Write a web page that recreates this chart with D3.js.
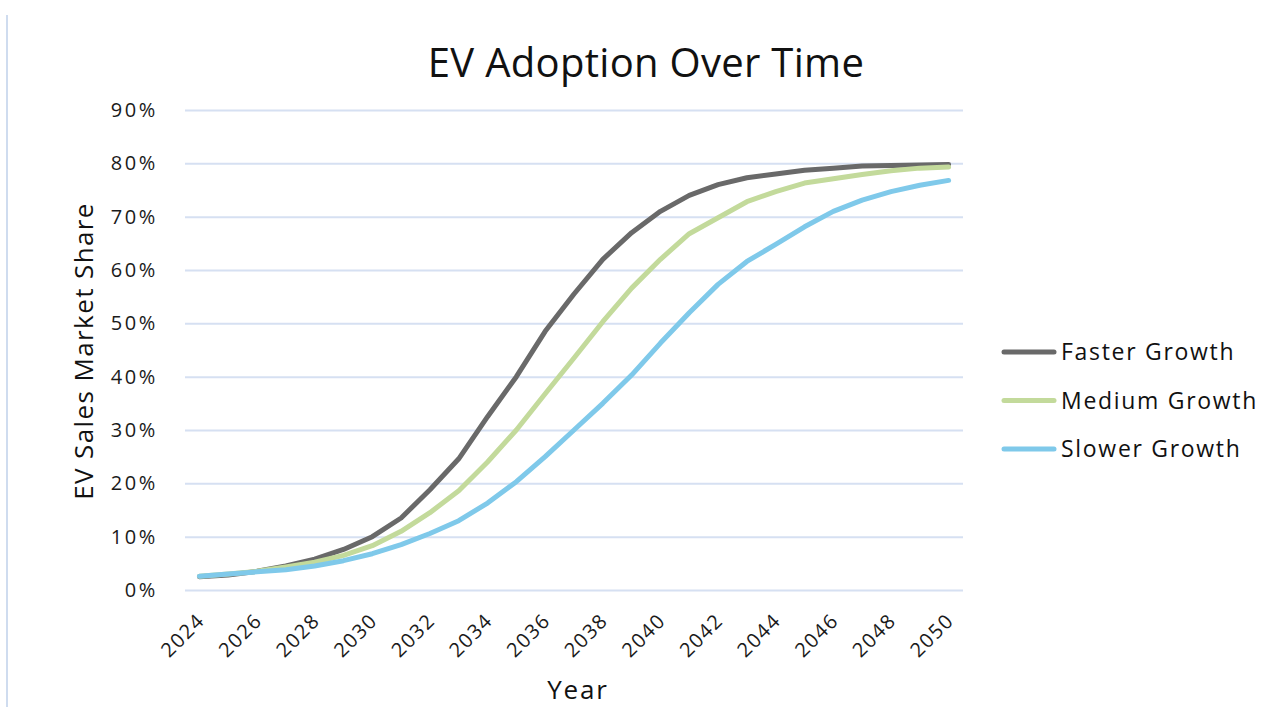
<!DOCTYPE html>
<html>
<head>
<meta charset="utf-8">
<script src="https://cdn.jsdelivr.net/npm/d3@7"></script>
<style>
  html, body { margin: 0; padding: 0; background: #fff; }
  svg { display: block; font-family: "Open Sans", "Noto Sans", sans-serif; }
</style>
</head>
<body>
<svg id="chart" width="1282" height="707"></svg>
<script>
// Projected EV share of new sales, 2024–2050, under three growth scenarios
const years = d3.range(2024, 2051);
const fasterGrowth = [2.5, 2.8, 3.5, 4.5, 5.8, 7.6, 10.0, 13.5, 18.8, 24.6, 32.5, 40.0, 48.5, 55.5, 62.0, 67.0, 71.0, 74.0, 76.0, 77.3, 78.0, 78.7, 79.1, 79.5, 79.6, 79.7, 79.8];
const mediumGrowth = [2.6, 3.0, 3.5, 4.3, 5.2, 6.5, 8.3, 11.0, 14.5, 18.6, 24.0, 30.0, 36.8, 43.5, 50.3, 56.6, 62.0, 66.8, 69.8, 72.8, 74.7, 76.3, 77.1, 77.9, 78.6, 79.1, 79.3];
const slowerGrowth = [2.6, 3.0, 3.4, 3.8, 4.5, 5.5, 6.8, 8.5, 10.6, 13.0, 16.3, 20.3, 25.0, 30.0, 35.0, 40.3, 46.3, 52.0, 57.3, 61.6, 64.8, 68.1, 71.0, 73.1, 74.7, 75.9, 76.8];
const seriesNames = ["Faster Growth", "Medium Growth", "Slower Growth"];
const seriesColors = ["#696969", "#c3da9b", "#7fc9ea"];
const yTicks = [0, 10, 20, 30, 40, 50, 60, 70, 80, 90];
const xTickYears = d3.range(2024, 2051, 2);

const series = [fasterGrowth, mediumGrowth, slowerGrowth].map((values, i) => ({
  name: seriesNames[i],
  color: seriesColors[i],
  points: years.map((yr, j) => ({ year: yr, value: values[j] }))
}));

const FONT = '"Open Sans", "Noto Sans", sans-serif';
const svg = d3.select("#chart");

// Thin frame line on the left edge
svg.append("line")
  .attr("x1", 7).attr("x2", 7).attr("y1", 15).attr("y2", 707)
  .attr("stroke", "#cfdcef").attr("stroke-width", 2);

const plot = { left: 185, right: 963, top: 110, bottom: 590 };

const x = d3.scalePoint()
  .domain(years)
  .range([plot.left, plot.right])
  .padding(0.5);

const y = d3.scaleLinear()
  .domain([0, 90])
  .range([plot.bottom, plot.top]);

// Horizontal gridlines + percentage labels
const yAxis = d3.axisLeft(y)
  .tickValues(yTicks)
  .tickSize(-(plot.right - plot.left))
  .tickPadding(27)
  .tickFormat(d => d + "%");

const gy = svg.append("g")
  .attr("transform", `translate(${plot.left},0)`)
  .call(yAxis)
  .attr("font-family", FONT);
gy.select(".domain").remove();
gy.selectAll(".tick line").attr("stroke", "#d6e0f2").attr("stroke-width", 2);
gy.selectAll(".tick text")
  .attr("fill", "#1a1a1a")
  .style("font-size", "20px")
  .style("letter-spacing", "2.6px");

// Year labels, rotated
const xAxis = d3.axisBottom(x)
  .tickValues(xTickYears)
  .tickSize(0)
  .tickPadding(0);

const gx = svg.append("g")
  .attr("transform", `translate(0,${plot.bottom})`)
  .call(xAxis)
  .attr("font-family", FONT);
gx.select(".domain").remove();
gx.selectAll(".tick text")
  .attr("fill", "#1a1a1a")
  .style("font-size", "20px")
  .style("letter-spacing", "1.5px")
  .attr("text-anchor", "end")
  .attr("dy", "0.35em")
  .attr("transform", "translate(1,27) rotate(-45)")
  .attr("y", 0);

// Series lines
const line = d3.line()
  .x(d => x(d.year))
  .y(d => y(d.value));

svg.append("g")
  .selectAll("path")
  .data(series)
  .join("path")
  .attr("d", d => line(d.points))
  .attr("fill", "none")
  .attr("stroke", d => d.color)
  .attr("stroke-width", 5)
  .attr("stroke-linecap", "round")
  .attr("stroke-linejoin", "round");

// Title
svg.append("text")
  .attr("x", 646).attr("y", 77)
  .attr("text-anchor", "middle")
  .attr("fill", "#111")
  .style("font-size", "40px")
  .style("letter-spacing", "0.3px")
  .text("EV Adoption Over Time");

// Axis titles
svg.append("text")
  .attr("transform", "translate(93,351) rotate(-90)")
  .attr("text-anchor", "middle")
  .attr("fill", "#111")
  .style("font-size", "26px")
  .style("letter-spacing", "1.4px")
  .text("EV Sales Market Share");

svg.append("text")
  .attr("x", 578).attr("y", 699)
  .attr("text-anchor", "middle")
  .attr("fill", "#111")
  .style("font-size", "26px")
  .style("letter-spacing", "1.8px")
  .text("Year");

// Legend
const legend = svg.append("g")
  .selectAll("g")
  .data(series)
  .join("g")
  .attr("transform", (d, i) => `translate(1004,${352 + i * 48.5})`);

legend.append("line")
  .attr("x1", 0).attr("x2", 50)
  .attr("stroke", d => d.color)
  .attr("stroke-width", 5)
  .attr("stroke-linecap", "round");

legend.append("text")
  .attr("x", 57).attr("dy", "0.35em")
  .attr("fill", "#111")
  .style("font-size", "23px")
  .style("letter-spacing", "1.7px")
  .text(d => d.name);
</script>
</body>
</html>
